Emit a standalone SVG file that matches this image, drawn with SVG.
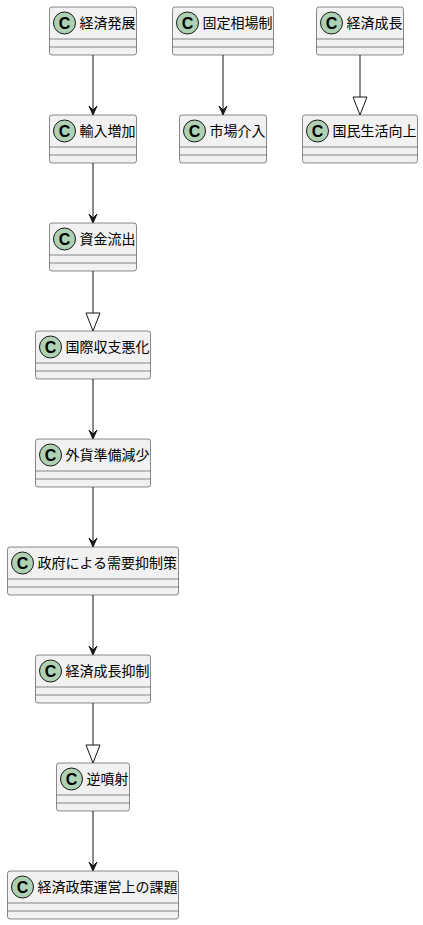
<svg xmlns="http://www.w3.org/2000/svg" width="423" height="925" viewBox="0 0 423 925">
<style>
.box{fill:#F1F1F1;stroke:#181818;stroke-width:0.5}
.sep{stroke:#181818;stroke-width:0.5}
.circ{fill:#ADD1B2;stroke:#181818;stroke-width:1}
.c{font-family:"Liberation Sans",sans-serif;font-weight:bold;font-size:16px;fill:#000000;text-anchor:middle}
.t{font-family:"Noto Sans CJK JP","Noto Sans",sans-serif;font-size:14px;fill:#000000}
.ln{stroke:#181818;stroke-width:1;fill:none}
.ah{fill:#181818;stroke:#181818;stroke-width:1}
.tri{fill:none;stroke:#181818;stroke-width:1}
</style>
<defs>
<g id="hdr"><circle class="circ" cx="15" cy="16" r="11"/><text class="c" x="15" y="21.5">C</text></g>
</defs>
<g id="connectors">
<line class="ln" x1="93" y1="55" x2="93" y2="114"/><polygon class="ah" points="89,106 93,115 97,106 93,110"/>
<line class="ln" x1="93" y1="163" x2="93" y2="222"/><polygon class="ah" points="89,214 93,223 97,214 93,218"/>
<line class="ln" x1="93" y1="271" x2="93" y2="313"/><polygon class="tri" points="86,313 93,331 100,313"/>
<line class="ln" x1="93" y1="379" x2="93" y2="438"/><polygon class="ah" points="89,430 93,439 97,430 93,434"/>
<line class="ln" x1="93" y1="487" x2="93" y2="546"/><polygon class="ah" points="89,538 93,547 97,538 93,542"/>
<line class="ln" x1="93" y1="595" x2="93" y2="654"/><polygon class="ah" points="89,646 93,655 97,646 93,650"/>
<line class="ln" x1="93" y1="703" x2="93" y2="745"/><polygon class="tri" points="86,745 93,763 100,745"/>
<line class="ln" x1="93" y1="811" x2="93" y2="870"/><polygon class="ah" points="89,862 93,871 97,862 93,866"/>
<line class="ln" x1="223" y1="55" x2="223" y2="114"/><polygon class="ah" points="219,106 223,115 227,106 223,110"/>
<line class="ln" x1="360" y1="55" x2="360" y2="97"/><polygon class="tri" points="353,97 360,115 367,97"/>
</g>
<g id="n1" transform="translate(49.5,7)"><rect class="box" x="0" y="0" width="87" height="48" rx="2.5"/><line class="sep" x1="0" y1="32" x2="87" y2="32"/><line class="sep" x1="0" y1="40" x2="87" y2="40"/><use href="#hdr"/><text class="t" x="30" y="21">経済発展</text></g>
<g id="n2" transform="translate(49.5,115)"><rect class="box" x="0" y="0" width="87" height="48" rx="2.5"/><line class="sep" x1="0" y1="32" x2="87" y2="32"/><line class="sep" x1="0" y1="40" x2="87" y2="40"/><use href="#hdr"/><text class="t" x="30" y="21">輸入増加</text></g>
<g id="n3" transform="translate(49.5,223)"><rect class="box" x="0" y="0" width="87" height="48" rx="2.5"/><line class="sep" x1="0" y1="32" x2="87" y2="32"/><line class="sep" x1="0" y1="40" x2="87" y2="40"/><use href="#hdr"/><text class="t" x="30" y="21">資金流出</text></g>
<g id="n4" transform="translate(35.5,331)"><rect class="box" x="0" y="0" width="115" height="48" rx="2.5"/><line class="sep" x1="0" y1="32" x2="115" y2="32"/><line class="sep" x1="0" y1="40" x2="115" y2="40"/><use href="#hdr"/><text class="t" x="30" y="21">国際収支悪化</text></g>
<g id="n5" transform="translate(35.5,439)"><rect class="box" x="0" y="0" width="115" height="48" rx="2.5"/><line class="sep" x1="0" y1="32" x2="115" y2="32"/><line class="sep" x1="0" y1="40" x2="115" y2="40"/><use href="#hdr"/><text class="t" x="30" y="21">外貨準備減少</text></g>
<g id="n6" transform="translate(7.5,547)"><rect class="box" x="0" y="0" width="171" height="48" rx="2.5"/><line class="sep" x1="0" y1="32" x2="171" y2="32"/><line class="sep" x1="0" y1="40" x2="171" y2="40"/><use href="#hdr"/><text class="t" x="30" y="21">政府による需要抑制策</text></g>
<g id="n7" transform="translate(35.5,655)"><rect class="box" x="0" y="0" width="115" height="48" rx="2.5"/><line class="sep" x1="0" y1="32" x2="115" y2="32"/><line class="sep" x1="0" y1="40" x2="115" y2="40"/><use href="#hdr"/><text class="t" x="30" y="21">経済成長抑制</text></g>
<g id="n8" transform="translate(56.5,763)"><rect class="box" x="0" y="0" width="73" height="48" rx="2.5"/><line class="sep" x1="0" y1="32" x2="73" y2="32"/><line class="sep" x1="0" y1="40" x2="73" y2="40"/><use href="#hdr"/><text class="t" x="30" y="21">逆噴射</text></g>
<g id="n9" transform="translate(7.5,871)"><rect class="box" x="0" y="0" width="171" height="48" rx="2.5"/><line class="sep" x1="0" y1="32" x2="171" y2="32"/><line class="sep" x1="0" y1="40" x2="171" y2="40"/><use href="#hdr"/><text class="t" x="30" y="21">経済政策運営上の課題</text></g>
<g id="n10" transform="translate(172.5,7)"><rect class="box" x="0" y="0" width="101" height="48" rx="2.5"/><line class="sep" x1="0" y1="32" x2="101" y2="32"/><line class="sep" x1="0" y1="40" x2="101" y2="40"/><use href="#hdr"/><text class="t" x="30" y="21">固定相場制</text></g>
<g id="n11" transform="translate(179.5,115)"><rect class="box" x="0" y="0" width="87" height="48" rx="2.5"/><line class="sep" x1="0" y1="32" x2="87" y2="32"/><line class="sep" x1="0" y1="40" x2="87" y2="40"/><use href="#hdr"/><text class="t" x="30" y="21">市場介入</text></g>
<g id="n12" transform="translate(316.5,7)"><rect class="box" x="0" y="0" width="87" height="48" rx="2.5"/><line class="sep" x1="0" y1="32" x2="87" y2="32"/><line class="sep" x1="0" y1="40" x2="87" y2="40"/><use href="#hdr"/><text class="t" x="30" y="21">経済成長</text></g>
<g id="n13" transform="translate(302.5,115)"><rect class="box" x="0" y="0" width="115" height="48" rx="2.5"/><line class="sep" x1="0" y1="32" x2="115" y2="32"/><line class="sep" x1="0" y1="40" x2="115" y2="40"/><use href="#hdr"/><text class="t" x="30" y="21">国民生活向上</text></g>
</svg>
